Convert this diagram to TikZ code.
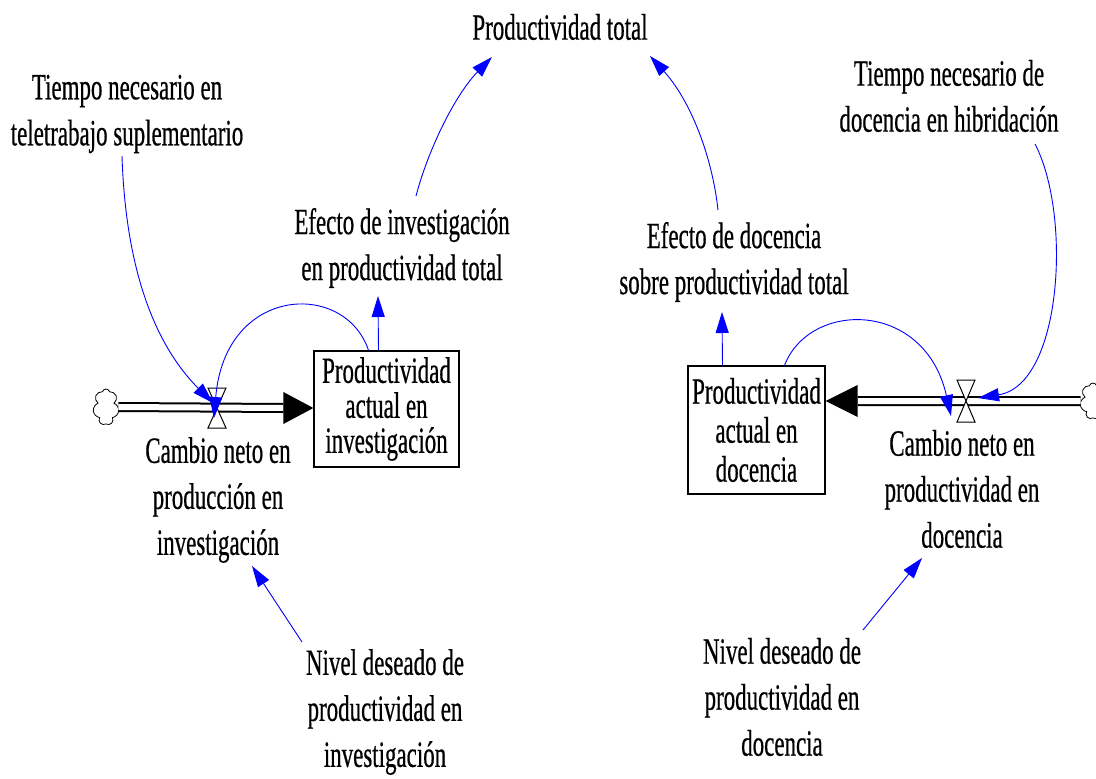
\documentclass[tikz,border=0pt]{standalone}
\usepackage{fontspec}
\setmainfont{Liberation Serif}[FakeStretch=0.62,FakeBold=0.5]
\usetikzlibrary{arrows.meta,shapes.symbols}
\begin{document}
\begin{tikzpicture}[x=1pt,y=-1pt,
  lbl/.style={align=center,font=\fontsize{37}{46}\selectfont,inner sep=0pt},
  stockbox/.style={draw,line width=1.3pt,align=center,inner sep=0pt},
  infl/.style={draw=blue,line width=0.9pt,-{Triangle[length=21pt,width=13pt]},blue},
  pipe/.style={draw=black,double=white,double distance=6pt,line width=2pt},
  cloudy/.style={cloud,cloud puffs=7,draw,line width=0.8pt,minimum width=26pt,minimum height=36pt,inner sep=0pt},
  valve/.style={draw,fill=white,line width=1pt}
]
\clip (0,0) rectangle (1096,779);
\fill[white] (0,0) rectangle (1096,779);

% text nodes
\node[lbl] (PT) at (560,27) {Productividad total};
\node[lbl] (TT) at (127,114) {Tiempo necesario en\\teletrabajo suplementario};
\node[lbl] (TH) at (949,96) {Tiempo necesario de\\docencia en hibridación};
\node[lbl] (EI) at (402,248) {Efecto de investigación\\en productividad total};
\node[lbl] (ED) at (734,262) {Efecto de docencia\\sobre productividad total};
\node[lbl] (CI) at (218,500) {Cambio neto en\\producción en\\investigación};
\node[lbl] (CD) at (962,489) {Cambio neto en\\productividad en\\docencia};
\node[lbl] (NI) at (385,712) {Nivel deseado de\\productividad en\\investigación};
\node[lbl] (ND) at (782,697) {Nivel deseado de\\productividad en\\docencia};

% stocks
\node[stockbox,minimum width=145pt,minimum height=116pt,font=\fontsize{37}{35}\selectfont] (SI) at (386.5,409) {Productividad\\actual en\\investigación};
\node[stockbox,minimum width=137pt,minimum height=128pt,font=\fontsize{37}{39}\selectfont] (SD) at (756.5,430) {Productividad\\actual en\\docencia};

% clouds and valves
\node[cloudy] (cL) at (106,407) {};
\node[cloudy] (cR) at (1093,401) {};
\coordinate (vL) at (217,408);
\coordinate (vR) at (966,401);

% pipes
\draw[pipe] (cL.east) -- ([xshift=-30]SI.west |- vL);
\fill ([xshift=-30,yshift=-16]SI.west |- vL) -- (SI.west |- vL) -- ([xshift=-30,yshift=16]SI.west |- vL) -- cycle;
\draw[pipe] (cR.west) -- ([xshift=32]SD.east |- vR);
\fill ([xshift=32,yshift=-16]SD.east |- vR) -- (SD.east |- vR) -- ([xshift=32,yshift=16]SD.east |- vR) -- cycle;
\draw[valve] ([shift={(-9,-20)}]vL) -- ([shift={(9,-20)}]vL) -- ([shift={(-9,20)}]vL) -- ([shift={(9,20)}]vL) -- cycle;
\draw[valve] ([shift={(-9,-21)}]vR) -- ([shift={(9,-21)}]vR) -- ([shift={(-9,21)}]vR) -- ([shift={(9,21)}]vR) -- cycle;

% influence arrows
\draw[infl] ([shift={(14,-52)}]EI.center) .. controls (428,150) and (455,95) .. ([shift={(-68,30)}]PT.center);
\draw[infl] ([shift={(-16,-52)}]ED.center) .. controls (712,155) and (690,100) .. ([shift={(90,29)}]PT.center);
\draw[infl] ([shift={(-5,42)}]TT.center) .. controls (126,280) and (160,350) .. ([shift={(-4,-5)}]vL);
\draw[infl] ([xshift=-18]SI.north) .. controls (345,280) and (225,285) .. ([shift={(-3,10)}]vL);
\draw[infl] ([xshift=-8]SI.north) -- ([shift={(-24,48)}]EI.center);
\draw[infl] ([xshift=-34]SD.north) -- ([shift={(-12,50)}]ED.center);
\draw[infl] ([xshift=28]SD.north) .. controls (810,300) and (925,300) .. ([shift={(-15,15)}]vR);
\draw[infl] ([shift={(86,48)}]TH.center) .. controls (1072,215) and (1062,385) .. ([shift={(12,-3)}]vR);
\draw[infl] ([shift={(-83,-70)}]NI.center) -- ([shift={(34,66)}]CI.center);
\draw[infl] ([shift={(81,-67)}]ND.center) -- ([shift={(-40,69)}]CD.center);
\end{tikzpicture}
\end{document}
